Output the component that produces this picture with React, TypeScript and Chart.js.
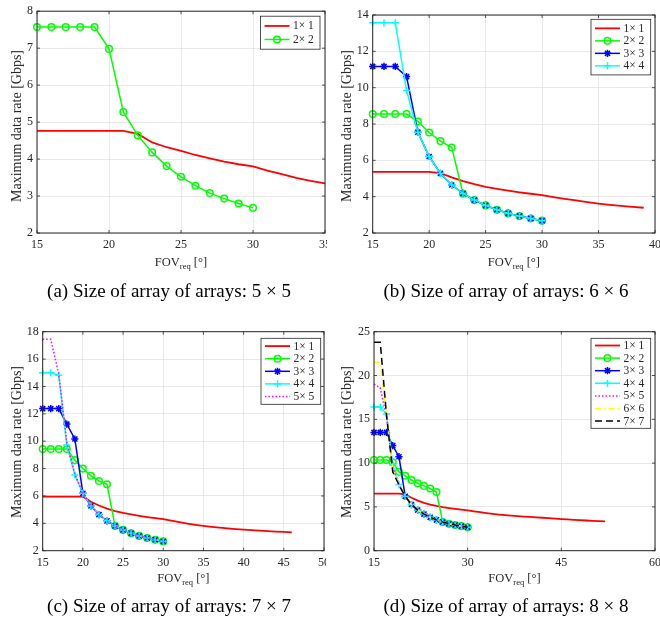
import React, { useEffect, useRef } from "react";
import { Chart, registerables } from "chart.js";
Chart.register(...registerables);

// ---------- data ----------
const FOV = [15, 16, 17, 18, 19, 20, 21, 22, 23, 24, 25, 26, 27, 28, 29, 30];

// (a) 5x5
const A_FOV_1x1 = [15, 16, 17, 18, 19, 20, 21, 22, 23, 24, 25, 26, 27, 28, 29, 30, 31, 32, 33, 34, 35];
const A_1x1 = [4.76, 4.76, 4.76, 4.76, 4.76, 4.76, 4.76, 4.68, 4.45, 4.32, 4.22, 4.11, 4.02, 3.93, 3.86, 3.80, 3.69, 3.59, 3.49, 3.41, 3.34];
const A_2x2 = [7.57, 7.57, 7.57, 7.57, 7.57, 6.98, 5.27, 4.64, 4.18, 3.81, 3.52, 3.28, 3.08, 2.93, 2.80, 2.68];

// (b) 6x6
const B_FOV_1x1 = [15, 16, 17, 18, 19, 20, 21, 22, 23, 24, 25, 26, 27, 28, 29, 30, 31, 32, 33, 34, 35, 36, 37, 38, 39];
const B_1x1 = [5.37, 5.37, 5.37, 5.37, 5.37, 5.37, 5.30, 5.06, 4.86, 4.69, 4.54, 4.43, 4.33, 4.24, 4.16, 4.08, 3.98, 3.88, 3.79, 3.70, 3.62, 3.55, 3.49, 3.44, 3.39];
const B_2x2 = [8.55, 8.55, 8.55, 8.55, 8.14, 7.53, 7.06, 6.71, 4.16, 3.81, 3.52, 3.28, 3.08, 2.93, 2.80, 2.68];
const B_3x3 = [11.17, 11.17, 11.17, 10.61, 7.55, 6.21, 5.28, 4.64, 4.18, 3.81, 3.52, 3.28, 3.08, 2.93, 2.80, 2.68];
const B_4x4 = [13.57, 13.57, 13.57, 9.84, 7.55, 6.21, 5.28, 4.64, 4.18, 3.81, 3.52, 3.28, 3.08, 2.93, 2.80, 2.68];

// (c) 7x7
const C_FOV_1x1 = [15, 16, 17, 18, 19, 20, 21, 22, 23, 24, 25, 26, 27, 28, 29, 30, 31, 32, 33, 34, 35, 36, 37, 38, 39, 40, 41, 42, 43, 44, 45, 46];
const C_1x1 = [5.95, 5.95, 5.95, 5.95, 5.95, 5.95, 5.58, 5.30, 5.08, 4.90, 4.76, 4.65, 4.55, 4.46, 4.38, 4.30, 4.19, 4.08, 3.98, 3.89, 3.81, 3.74, 3.68, 3.63, 3.58, 3.54, 3.50, 3.46, 3.43, 3.40, 3.37, 3.34];
const C_2x2 = [9.43, 9.43, 9.43, 9.43, 8.62, 8.0, 7.48, 7.09, 6.85, 3.80, 3.52, 3.28, 3.08, 2.93, 2.80, 2.68];
const C_3x3 = [12.38, 12.38, 12.38, 11.25, 10.16, 6.19, 5.27, 4.64, 4.18, 3.81, 3.52, 3.28, 3.08, 2.93, 2.80, 2.68];
const C_4x4 = [15.0, 15.0, 14.82, 9.72, 7.53, 6.2, 5.27, 4.64, 4.18, 3.81, 3.52, 3.28, 3.08, 2.93, 2.80, 2.68];
const C_5x5 = [17.44, 17.44, 14.9, 9.9, 7.6, 6.2, 5.27, 4.64, 4.18, 3.81, 3.52, 3.28, 3.08, 2.93, 2.80, 2.68];

// (d) 8x8
const D_FOV_1x1 = [15, 16, 17, 18, 19, 20, 21, 22, 23, 24, 25, 26, 27, 28, 29, 30, 31, 32, 33, 34, 35, 36, 37, 38, 39, 40, 41, 42, 43, 44, 45, 46, 47, 48, 49, 50, 51, 52];
const D_1x1 = [6.52, 6.52, 6.52, 6.52, 6.52, 6.42, 6.05, 5.72, 5.47, 5.27, 5.11, 4.98, 4.87, 4.77, 4.68, 4.60, 4.50, 4.40, 4.30, 4.21, 4.13, 4.06, 4.00, 3.95, 3.90, 3.86, 3.81, 3.76, 3.71, 3.66, 3.61, 3.57, 3.53, 3.49, 3.45, 3.41, 3.38, 3.35];
const D_2x2 = [10.35, 10.35, 10.35, 10.1, 9.0, 8.55, 8.07, 7.7, 7.4, 7.1, 6.7, 3.28, 3.08, 2.93, 2.80, 2.68];
const D_3x3 = [13.5, 13.5, 13.5, 12.0, 10.73, 6.2, 5.27, 4.64, 4.18, 3.81, 3.52, 3.28, 3.08, 2.93, 2.80, 2.68];
const D_4x4 = [16.4, 16.4, 15.6, 9.8, 7.55, 6.2, 5.27, 4.64, 4.18, 3.81, 3.52, 3.28, 3.08, 2.93, 2.80, 2.68];
const D_5x5 = [19.0, 18.6, 15.3, 9.5, 7.5, 6.2, 5.27, 4.64, 4.18, 3.81, 3.52, 3.28, 3.08, 2.93, 2.80, 2.68];
const D_6x6 = [21.5, 21.5, 15.5, 9.3, 7.5, 6.2, 5.27, 4.64, 4.18, 3.81, 3.52, 3.28, 3.08, 2.93, 2.80, 2.68];
const D_7x7 = [23.8, 23.8, 15.5, 9.0, 7.5, 6.2, 5.27, 4.64, 4.18, 3.81, 3.52, 3.28, 3.08, 2.93, 2.80, 2.68];

const LABELS = ["1\u00d7 1", "2\u00d7 2", "3\u00d7 3", "4\u00d7 4", "5\u00d7 5", "6\u00d7 6", "7\u00d7 7"];
const Y_TITLE = "Maximum data rate [Gbps]";
const CAPTIONS = [
  "(a) Size of array of arrays: 5 \u00d7 5",
  "(b) Size of array of arrays: 6 \u00d7 6",
  "(c) Size of array of arrays: 7 \u00d7 7",
  "(d) Size of array of arrays: 8 \u00d7 8",
];

// ---------- styles ----------
type Style = { color: string; dash: number[]; point: string | null; width: number };
const STYLES: Style[] = [
  { color: "#ff0000", dash: [], point: null, width: 1.8 },
  { color: "#00ff00", dash: [], point: "circle", width: 1.5 },
  { color: "#0000ff", dash: [], point: "star", width: 1.5 },
  { color: "#00ffff", dash: [], point: "cross", width: 1.5 },
  { color: "#ff00ff", dash: [1.5, 2], point: null, width: 1.5 },
  { color: "#ffff00", dash: [6, 3, 1.5, 3], point: null, width: 1.5 },
  { color: "#000000", dash: [7, 4], point: null, width: 1.5 },
];

const FONT = "'Liberation Serif', 'Times New Roman', serif";
const INK = "#262626";
const CW = 360;
const CH = 262;

type Panel = {
  px: number; py: number; clipW: number;
  area: { l: number; r: number; t: number; b: number };
  x: [number, number, number]; y: [number, number, number];
  series: { xs: number[]; ys: number[] }[];
  leg: { right: number; top: number; w: number; rowH: number; pad: number };
  caption: string; yTitleY: number; xTitleY: number; capY: number; capX: number;
};

const PANELS: Panel[] = [
  {
    px: 0, py: 0, clipW: 327, area: { l: 37, r: 325, t: 9, b: 233 },
    x: [15, 35, 5], y: [2, 8, 1],
    series: [{ xs: A_FOV_1x1, ys: A_1x1 }, { xs: FOV, ys: A_2x2 }],
    leg: { right: 5, top: 5, w: 59.5, rowH: 13.5, pad: 3 },
    caption: CAPTIONS[0], yTitleY: 126, xTitleY: 262, capY: 290, capX: 169,
  },
  {
    px: 330, py: 0, clipW: 330, area: { l: 42.7, r: 325, t: 15, b: 233 },
    x: [15, 40, 5], y: [2, 14, 2],
    series: [{ xs: B_FOV_1x1, ys: B_1x1 }, { xs: FOV, ys: B_2x2 }, { xs: FOV, ys: B_3x3 }, { xs: FOV, ys: B_4x4 }],
    leg: { right: 4.3, top: 4.3, w: 59.7, rowH: 12.5, pad: 2.8 },
    caption: CAPTIONS[1], yTitleY: 126, xTitleY: 262, capY: 290, capX: 176,
  },
  {
    px: 0, py: 310, clipW: 326, area: { l: 42.7, r: 324, t: 21.7, b: 240.7 },
    x: [15, 50, 5], y: [2, 18, 2],
    series: [{ xs: C_FOV_1x1, ys: C_1x1 }, { xs: FOV, ys: C_2x2 }, { xs: FOV, ys: C_3x3 }, { xs: FOV, ys: C_4x4 }, { xs: FOV, ys: C_5x5 }],
    leg: { right: 3.3, top: 6.6, w: 59.7, rowH: 12.6, pad: 1.5 },
    caption: CAPTIONS[2], yTitleY: 132, xTitleY: 268, capY: 295, capX: 169,
  },
  {
    px: 330, py: 310, clipW: 330, area: { l: 44, r: 325, t: 21.7, b: 240.7 },
    x: [15, 60, 15], y: [0, 25, 5],
    series: [{ xs: D_FOV_1x1, ys: D_1x1 }, { xs: FOV, ys: D_2x2 }, { xs: FOV, ys: D_3x3 }, { xs: FOV, ys: D_4x4 }, { xs: FOV, ys: D_5x5 }, { xs: FOV, ys: D_6x6 }, { xs: FOV, ys: D_7x7 }],
    leg: { right: 4.3, top: 6.6, w: 59.7, rowH: 12.6, pad: 0.9 },
    caption: CAPTIONS[3], yTitleY: 132, xTitleY: 268, capY: 295, capX: 176,
  },
];

function drawMarker(ctx: CanvasRenderingContext2D, style: string, x: number, y: number, r: number, color: string) {
  ctx.save();
  ctx.strokeStyle = color;
  ctx.lineWidth = 1.5;
  ctx.setLineDash([]);
  ctx.beginPath();
  if (style === "circle") {
    ctx.arc(x, y, r, 0, Math.PI * 2);
  } else {
    ctx.moveTo(x - r, y); ctx.lineTo(x + r, y);
    ctx.moveTo(x, y - r); ctx.lineTo(x, y + r);
    if (style === "star") {
      const d = r * Math.SQRT1_2;
      ctx.moveTo(x - d, y - d); ctx.lineTo(x + d, y + d);
      ctx.moveTo(x - d, y + d); ctx.lineTo(x + d, y - d);
    }
  }
  ctx.stroke();
  ctx.restore();
}

function makeFrame(p: Panel) {
  return {
    id: "mframe",
    afterDatasetsDraw(chart: any) {
      const { ctx, chartArea: a, scales } = chart;
      ctx.save();
      ctx.strokeStyle = INK;
      ctx.lineWidth = 1;
      ctx.setLineDash([]);
      ctx.strokeRect(a.left, a.top, a.right - a.left, a.bottom - a.top);
      const tl = 3;
      ctx.lineWidth = 0.8;
      ctx.beginPath();
      for (const t of scales.x.ticks) {
        const x = scales.x.getPixelForValue(t.value);
        ctx.moveTo(x, a.bottom); ctx.lineTo(x, a.bottom - tl);
        ctx.moveTo(x, a.top); ctx.lineTo(x, a.top + tl);
      }
      for (const t of scales.y.ticks) {
        const y = scales.y.getPixelForValue(t.value);
        ctx.moveTo(a.left, y); ctx.lineTo(a.left + tl, y);
        ctx.moveTo(a.right, y); ctx.lineTo(a.right - tl, y);
      }
      ctx.stroke();

      // legend
      const n = p.series.length;
      const bw = p.leg.w;
      const bh = p.leg.pad * 2 + n * p.leg.rowH;
      const bx = a.right - p.leg.right - bw;
      const by = a.top + p.leg.top;
      ctx.fillStyle = "#ffffff";
      ctx.fillRect(bx, by, bw, bh);
      ctx.lineWidth = 0.8;
      ctx.strokeStyle = INK;
      ctx.strokeRect(bx, by, bw, bh);
      ctx.font = `11.5px ${FONT}`;
      ctx.textBaseline = "middle";
      ctx.textAlign = "left";
      for (let i = 0; i < n; i++) {
        const s = STYLES[i];
        const cy = by + p.leg.pad + p.leg.rowH * (i + 0.5);
        ctx.save();
        ctx.strokeStyle = s.color;
        ctx.lineWidth = s.width;
        ctx.setLineDash(s.dash);
        ctx.beginPath();
        ctx.moveTo(bx + 4, cy);
        ctx.lineTo(bx + 29, cy);
        ctx.stroke();
        ctx.restore();
        if (s.point) drawMarker(ctx, s.point, bx + 16.5, cy, s.point === "circle" ? 3.3 : 3.6, s.color);
        ctx.fillStyle = INK;
        ctx.fillText(LABELS[i], bx + 32.5, cy + 0.5);
      }
      ctx.restore();
    },
  };
}

function PanelView({ p }: { p: Panel }) {
  const ref = useRef<HTMLCanvasElement>(null);
  useEffect(() => {
    const n = p.series.length;
    const XH = 20;
    const datasets = p.series.map((s, i) => {
      const st = STYLES[i];
      return {
        label: LABELS[i],
        data: s.xs.map((x, k) => ({ x, y: s.ys[k] })),
        borderColor: st.color,
        borderWidth: st.width,
        borderDash: st.dash,
        pointStyle: st.point || "circle",
        pointRadius: st.point ? (st.point === "circle" ? 3.3 : 3.6) : 0,
        pointBorderColor: st.color,
        pointBackgroundColor: "rgba(0,0,0,0)",
        pointBorderWidth: 1.5,
        tension: 0,
        fill: false,
        clip: false,
        order: n - i,
      };
    });
    const chart = new Chart(ref.current as HTMLCanvasElement, {
      type: "line",
      data: { datasets } as any,
      options: {
        responsive: false,
        maintainAspectRatio: false,
        animation: false,
        events: [],
        layout: {
          padding: {
            left: 0,
            top: p.area.t,
            right: CW - p.area.r,
            bottom: CH - p.area.b - XH,
          },
        },
        plugins: { legend: { display: false }, tooltip: { enabled: false } },
        scales: {
          x: {
            type: "linear",
            min: p.x[0], max: p.x[1],
            afterFit: (sc: any) => { sc.height = XH; },
            ticks: { stepSize: p.x[2], color: INK, font: { family: FONT, size: 12 }, padding: 5, maxRotation: 0, autoSkip: false },
            grid: { color: "#e3e3e3", lineWidth: 0.8, drawTicks: false },
            border: { display: false },
          },
          y: {
            type: "linear",
            min: p.y[0], max: p.y[1],
            afterFit: (sc: any) => { sc.width = p.area.l; },
            ticks: { stepSize: p.y[2], color: INK, font: { family: FONT, size: 12 }, padding: 4, autoSkip: false },
            grid: { color: "#e3e3e3", lineWidth: 0.8, drawTicks: false },
            border: { display: false },
          },
        },
      } as any,
      plugins: [makeFrame(p)],
    });
    return () => chart.destroy();
  }, []);

  const cx = p.px + (p.area.l + p.area.r) / 2;
  return (
    <>
      <div style={{ position: "absolute", left: p.px, top: p.py, width: p.clipW, height: CH, overflow: "hidden" }}>
        <canvas ref={ref} width={CW} height={CH} style={{ width: CW, height: CH, display: "block" }} />
      </div>
      <div style={{ position: "absolute", left: p.px + 16.7, top: p.py + p.yTitleY, transform: "translate(-50%,-50%) rotate(-90deg)", whiteSpace: "nowrap", fontFamily: FONT, fontSize: 14, color: INK, lineHeight: 1 }}>
        {Y_TITLE}
      </div>
      <div style={{ position: "absolute", left: cx, top: p.py + p.xTitleY, transform: "translate(-50%,-50%)", whiteSpace: "nowrap", fontFamily: FONT, fontSize: 12.5, color: INK, lineHeight: 1 }}>
        FOV<span style={{ fontSize: 8.5, position: "relative", top: 3 }}>req</span> [°]
      </div>
      <div style={{ position: "absolute", left: p.px + p.capX, top: p.py + p.capY, transform: "translate(-50%,-50%)", whiteSpace: "nowrap", fontFamily: FONT, fontSize: 19, color: "#000", lineHeight: 1 }}>
        {p.caption}
      </div>
    </>
  );
}

export default function App() {
  return (
    <div style={{ position: "absolute", left: 0, top: 0, width: 660, height: 619, background: "#fff", overflow: "hidden" }}>
      {PANELS.map((p, i) => (
        <PanelView key={i} p={p} />
      ))}
    </div>
  );
}
